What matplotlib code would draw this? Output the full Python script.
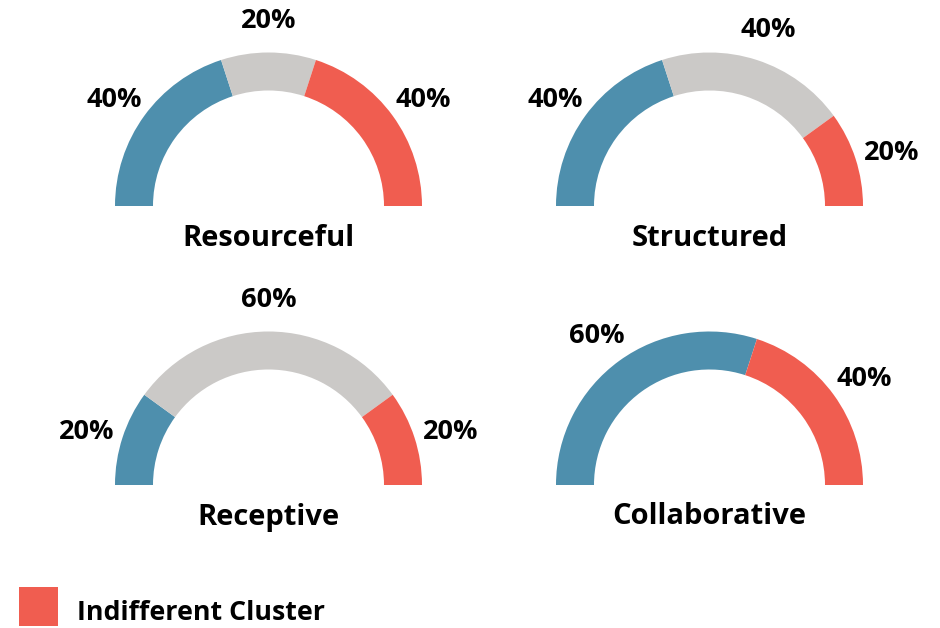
import matplotlib.pyplot as plt
import numpy as np

plt.rcParams['font.family'] = ['Open Sans', 'DejaVu Sans']

titles = ["Resourceful", "Structured", "Receptive", "Collaborative"]
blue_pct = [40, 40, 20, 60]
grey_pct = [20, 40, 60, 0]
red_pct = [40, 20, 20, 40]
legend_label = "Indifferent Cluster"

colors = ["#4e8fad", "#cbc9c7", "#f05d50"]

W, H = 940, 628
# gauge centres in pixel coords (x from left, y from top)
centres = [(268.5, 206), (709.5, 206), (268.5, 485), (709.5, 485)]
R, ring = 153.5, 38

fig = plt.figure(figsize=(W / 100, H / 100), dpi=100)
ax = fig.add_axes([0, 0, 1, 1])

for i, title in enumerate(titles):
    cx, cy = centres[i][0], H - centres[i][1]
    vals = [blue_pct[i], grey_pct[i], red_pct[i]]
    total = sum(vals)
    ax.pie(vals + [total], colors=colors + ["none"], startangle=180,
           counterclock=False, radius=R, center=(cx, cy),
           wedgeprops=dict(width=ring, linewidth=0), frame=True)
    # percentage labels at mid-angle of each segment
    start = 180.0
    for v in vals:
        if v == 0:
            continue
        span = 180.0 * v / total
        mid = np.radians(start - span / 2)
        start -= span
        r_lab = R * 1.245
        ax.text(cx + r_lab * np.cos(mid), cy + r_lab * np.sin(mid) - 6, f"{v}%",
                ha="center", va="center", fontsize=19.5, fontweight="bold")
    ax.text(cx, cy - 32, title, ha="center", va="center",
            fontsize=21, fontweight="bold")

# legend (only the first entry fits in frame)
ax.add_patch(plt.Rectangle((19, H - 626), 39, 39, color=colors[2], lw=0))
ax.text(77, H - 613, legend_label, ha="left", va="center",
        fontsize=19.3, fontweight="bold")

ax.set_xlim(0, W)
ax.set_ylim(0, H)
ax.set_aspect("auto")
ax.axis("off")

fig.savefig("out.png", dpi=100)
